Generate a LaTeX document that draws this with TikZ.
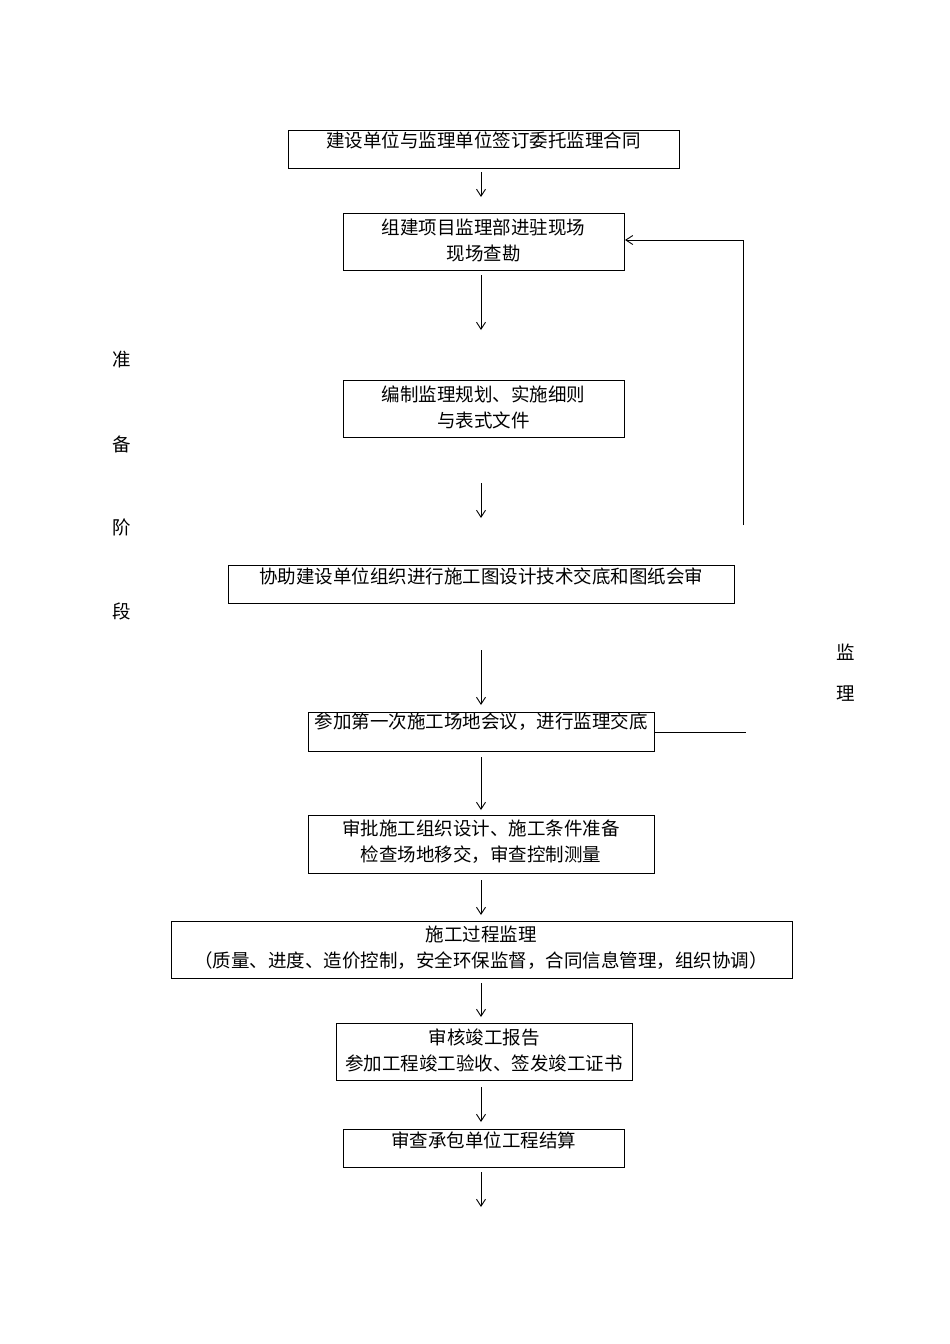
\documentclass[tikz,border=0pt]{standalone}
\usepackage{fontspec}
\setmainfont{Noto Sans CJK SC}
\usetikzlibrary{arrows.meta}
\begin{document}
\begin{tikzpicture}[x=1pt,y=-1pt,
  bx/.style={draw,line width=0.9pt},
  tx/.style={font=\fontsize{18.5}{26}\selectfont,inner sep=0pt,align=center},
  ar/.style={-{Straight Barb[length=7pt,width=9pt]},line width=0.9pt}]
\useasboundingbox (0,0) rectangle (950,1344);
\draw[bx] (288,130) rectangle (679,168);
\node[tx] (t1) at (483.5,140) {建设单位与监理单位签订委托监理合同};
\draw[bx] (343,213) rectangle (624,270);
\node[tx] (t2) at (483.5,240) {组建项目监理部进驻现场\\现场查勘};
\draw[bx] (343,380) rectangle (624,437);
\node[tx] (t3) at (483.5,407) {编制监理规划、实施细则\\与表式文件};
\draw[bx] (228,565) rectangle (734,603);
\node[tx] (t4) at (481,576) {协助建设单位组织进行施工图设计技术交底和图纸会审};
\draw[bx] (308,712) rectangle (654,751);
\node[tx] (t5) at (481,722) {参加第一次施工场地会议，进行监理交底};
\draw[bx] (308,815) rectangle (654,873);
\node[tx] (t6) at (481,842) {审批施工组织设计、施工条件准备\\检查场地移交，审查控制测量};
\draw[bx] (171,921) rectangle (792,978);
\node[tx] (t7) at (481,948) {施工过程监理\\（质量、进度、造价控制，安全环保监督，合同信息管理，组织协调）};
\draw[bx] (336,1023) rectangle (632,1080);
\node[tx] (t8) at (484,1050) {审核竣工报告\\参加工程竣工验收、签发竣工证书};
\draw[bx] (343,1129) rectangle (624,1167);
\node[tx] (t9) at (483.5,1140) {审查承包单位工程结算};
\coordinate (a1) at (481,172); \coordinate (b1) at (481,197);
\coordinate (a2) at (481,275); \coordinate (b2) at (481,330);
\coordinate (a3) at (481,483); \coordinate (b3) at (481,518);
\coordinate (a4) at (481,650); \coordinate (b4) at (481,705);
\coordinate (a5) at (481,757); \coordinate (b5) at (481,810);
\coordinate (a6) at (481,880); \coordinate (b6) at (481,915);
\coordinate (a7) at (481,983); \coordinate (b7) at (481,1017);
\coordinate (a8) at (481,1087); \coordinate (b8) at (481,1122);
\coordinate (a9) at (481,1172); \coordinate (b9) at (481,1207);
\foreach \i in {1,...,9} \draw[ar] (a\i) -- (b\i);
\coordinate (f0) at (743,525); \coordinate (f1) at (743,240); \coordinate (f2) at (625,240);
\draw[ar] (f0) -- (f1) -- (f2);
\coordinate (g0) at (654,732); \coordinate (g1) at (746,732);
\draw[line width=0.9pt] (g0) -- (g1);
\node[tx] (z1) at (122,360) {准};
\node[tx] (z2) at (122,444) {备};
\node[tx] (z3) at (122,527) {阶};
\node[tx] (z4) at (122,611) {段};
\node[tx] (m1) at (846,652) {监};
\node[tx] (m2) at (846,694) {理};
\end{tikzpicture}
\end{document}
